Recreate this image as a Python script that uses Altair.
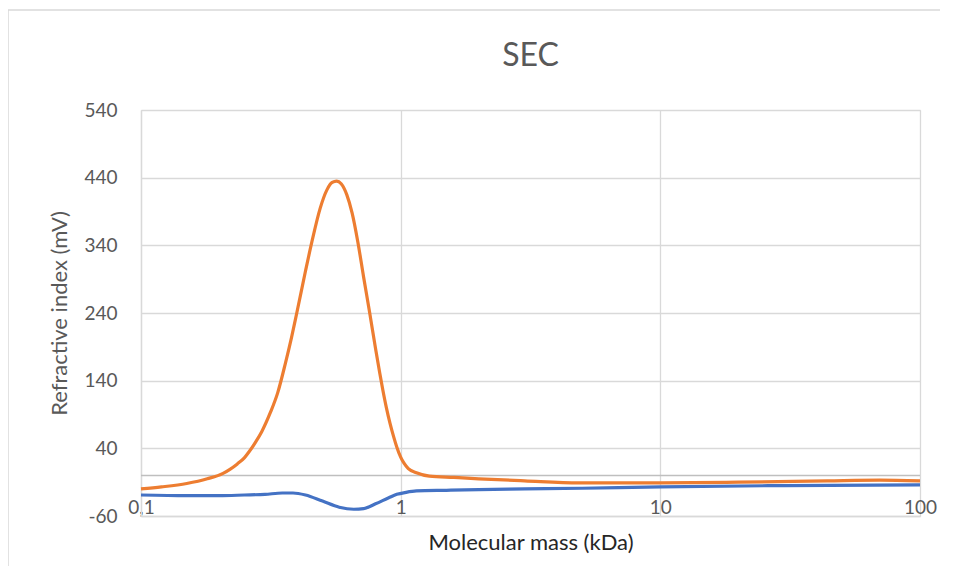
import altair as alt
import pandas as pd

# Orange series (molecular mass kDa, refractive index mV)
orange_x = [0.1, 0.12, 0.15, 0.18, 0.207, 0.22, 0.235, 0.25, 0.262, 0.277, 0.292, 0.315,
            0.336, 0.36, 0.38, 0.398, 0.43, 0.455, 0.49, 0.52, 0.545, 0.567, 0.59, 0.62,
            0.65, 0.684, 0.72, 0.76, 0.80, 0.83, 0.853, 0.88, 0.91, 0.94, 0.966, 1.0,
            1.03, 1.07, 1.15, 1.29, 1.6, 2.0, 3.0, 4.87, 10, 20, 44, 70, 100]
orange_y = [-20, -17, -12, -5, 3, 9, 17, 26, 36, 50, 65, 93,
            122, 166, 204, 240, 302, 345, 395, 422, 433, 435, 431, 415,
            388, 345, 293, 240, 188, 152, 127, 101, 77, 57, 42, 27,
            18, 10, 4, -1, -3, -5, -8, -11, -11, -10, -8, -7, -8]

# Blue series
blue_x = [0.1, 0.15, 0.2, 0.25, 0.3, 0.35, 0.385, 0.43, 0.5, 0.58, 0.66, 0.72, 0.8,
          0.9, 0.966, 1.05, 1.15, 1.5, 2.0, 3.0, 5.0, 10, 30, 100]
blue_y = [-29, -30, -30, -29, -28, -26, -26, -29, -38, -47, -50, -49, -42,
          -33, -28, -25, -23, -22, -21, -20, -19, -17, -15, -14]

x_ticks = [0.1, 1, 10, 100]
y_ticks = [-60, 40, 140, 240, 340, 440, 540]

series_names = ["Blue", "Orange"]
series_colors = ["#4472C4", "#ED7D31"]

df = pd.concat([
    pd.DataFrame({"mass": blue_x, "ri": blue_y, "series": "Blue"}),
    pd.DataFrame({"mass": orange_x, "ri": orange_y, "series": "Orange"}),
])

W, H = 779, 406
FONT = "Lato"

x_enc = alt.X(
    "mass:Q",
    scale=alt.Scale(type="log", domain=[0.1, 100], nice=False),
    axis=alt.Axis(
        values=x_ticks,
        labelExpr="replace(toString(datum.value), '.', ',')",
        title="Molecular mass (kDa)",
        titleFont=FONT, titleFontSize=22, titleFontWeight="normal", titleColor="#262626",
        titlePadding=15,
        labelFont=FONT, labelFontSize=19, labelColor="#595959",
        labelBaseline="alphabetic", labelPadding=-3, labelFlush=False,
        ticks=False, tickSize=0,
        domainColor="#d9d9d9", domainWidth=1.3,
        gridColor="#d9d9d9", gridWidth=1.3,
    ),
)
y_enc = alt.Y(
    "ri:Q",
    scale=alt.Scale(domain=[-60, 540], nice=False, zero=False),
    axis=alt.Axis(
        values=y_ticks,
        labelExpr="toString(datum.value)",
        title="Refractive index (mV)",
        titleFont=FONT, titleFontSize=22, titleFontWeight="normal", titleColor="#595959",
        titlePadding=12,
        labelFont=FONT, labelFontSize=19, labelColor="#595959",
        labelPadding=24,
        ticks=False, tickSize=0,
        domainColor="#d9d9d9", domainWidth=1.3,
        gridColor="#d9d9d9", gridWidth=1.3,
    ),
)

lines = alt.Chart(df).mark_line(strokeWidth=3.2, interpolate="monotone").encode(
    x=x_enc,
    y=y_enc,
    color=alt.Color("series:N", scale=alt.Scale(domain=series_names, range=series_colors), legend=None),
)

zero_df = pd.DataFrame({"ri": [0]})
zero_line = alt.Chart(zero_df).mark_rule(color="#bfbfbf", strokeWidth=1.5).encode(
    y=alt.Y("ri:Q")
)

frame_df = pd.DataFrame({"k": [0]})
frame_left = alt.Chart(frame_df).mark_rule(color="#d9d9d9", strokeWidth=1.5).encode(
    x=alt.value(-133), y=alt.value(-100), y2=alt.value(H + 70)
)
frame_top = alt.Chart(frame_df).mark_rule(color="#d9d9d9", strokeWidth=1.5).encode(
    x=alt.value(-133), x2=alt.value(W + 40), y=alt.value(-100)
)

chart = alt.layer(zero_line, lines, frame_left, frame_top).properties(
    width=W,
    height=H,
    title=alt.TitleParams(
        "SEC", font=FONT, fontSize=32, fontWeight="normal", color="#595959",
        anchor="middle", baseline="alphabetic", offset=-89,
    ),
    autosize=alt.AutoSizeParams(type="none"),
    padding={"left": 133, "top": 102, "right": 20, "bottom": 50},
).configure_view(stroke=None).configure(background="white")

chart.save("out.html", embed_options={"renderer": "svg", "actions": False})
